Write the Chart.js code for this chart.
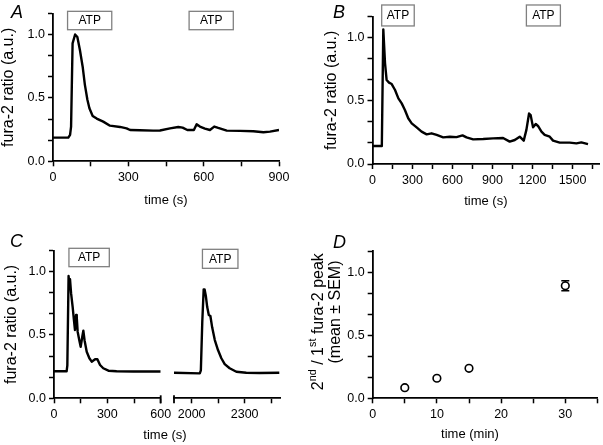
<!DOCTYPE html>
<html><head><meta charset="utf-8">
<script src="https://cdn.jsdelivr.net/npm/chart.js@4.4.1/dist/chart.umd.min.js"></script>
<style>
html,body{margin:0;padding:0;background:#fff;}
#wrap{position:relative;width:603px;height:445px;overflow:hidden;background:#fff;}
canvas{position:absolute;}
</style></head><body>
<div id="wrap">
<canvas id="cA" width="300" height="222" style="left:0;top:0"></canvas>
<canvas id="cB" width="303" height="222" style="left:300px;top:0"></canvas>
<canvas id="cC1" width="300" height="223" style="left:0;top:222px"></canvas>
<canvas id="cC2" width="135" height="223" style="left:165px;top:222px"></canvas>
<canvas id="cD" width="303" height="223" style="left:300px;top:222px"></canvas>
</div>
<script>
// ---------------- data ----------------
const timeA  = [0, 61, 68, 72, 78, 88, 97, 107, 118, 127, 137, 145, 158, 174, 200, 227, 267, 293, 307, 346, 399, 426, 466, 499, 516, 535, 561, 572, 585, 605, 625, 642, 658, 692, 745, 798, 838, 864, 900];
const ratioA = [0.187, 0.187, 0.208, 0.274, 0.93, 1.0, 0.98, 0.88, 0.748, 0.603, 0.485, 0.419, 0.358, 0.337, 0.313, 0.281, 0.271, 0.26, 0.247, 0.245, 0.242, 0.243, 0.26, 0.271, 0.266, 0.247, 0.247, 0.292, 0.274, 0.258, 0.247, 0.274, 0.263, 0.242, 0.24, 0.237, 0.229, 0.234, 0.247];

const timeB  = [0, 66, 70, 81, 94, 106, 124, 144, 169, 194, 219, 243, 268, 294, 331, 368, 406, 443, 481, 530, 580, 630, 675, 705, 755, 830, 904, 979, 1029, 1067, 1104, 1134, 1154, 1174, 1186, 1204, 1224, 1241, 1267, 1291, 1329, 1354, 1404, 1479, 1529, 1566, 1616];
const ratioB = [0.142, 0.142, 0.15, 1.066, 0.797, 0.665, 0.644, 0.633, 0.586, 0.52, 0.48, 0.428, 0.362, 0.322, 0.29, 0.256, 0.235, 0.243, 0.23, 0.211, 0.216, 0.213, 0.227, 0.211, 0.195, 0.198, 0.203, 0.206, 0.177, 0.19, 0.216, 0.185, 0.27, 0.40, 0.387, 0.29, 0.317, 0.301, 0.256, 0.23, 0.216, 0.185, 0.169, 0.169, 0.163, 0.171, 0.158];

const timeC1  = [0, 71, 75, 82, 86, 90, 96, 105, 112, 118, 124, 128, 133, 142, 150, 159, 165, 172, 184, 199, 212, 231, 244, 259, 277, 306, 352, 446, 540, 600];
const ratioC1 = [0.213, 0.213, 0.26, 0.965, 0.907, 0.94, 0.83, 0.72, 0.618, 0.539, 0.657, 0.64, 0.526, 0.46, 0.407, 0.486, 0.534, 0.457, 0.368, 0.316, 0.289, 0.308, 0.308, 0.263, 0.237, 0.218, 0.213, 0.212, 0.212, 0.212];

const timeC2  = [1900, 2046, 2052, 2060, 2068, 2073, 2080, 2088, 2097, 2106, 2116, 2131, 2149, 2168, 2187, 2215, 2253, 2309, 2384, 2496];
const ratioC2 = [0.202, 0.197, 0.22, 0.6, 0.86, 0.86, 0.81, 0.72, 0.657, 0.65, 0.56, 0.46, 0.381, 0.316, 0.27, 0.237, 0.21, 0.202, 0.2, 0.202];

const timeD  = [5, 10, 15, 30];
const ratioD = [0.084, 0.159, 0.238, 0.893];
const semD   = [0.01, 0.01, 0.01, 0.04];

// ATP application windows (s)
const atpA  = [[58, 234], [542, 718]];
const atpB  = [[69, 313], [1154, 1409]];
const atpC1 = [[84, 311]];
const atpC2 = [[2061, 2262]];

// ticks
const yTicks  = [0, 1/6, 2/6, 3/6, 4/6, 5/6, 1, 7/6];
const yLabels = [0, 0.5, 1.0];
const xTicksA  = [0, 150, 300, 450, 600, 750, 900];
const xLabelsA = [0, 300, 600, 900];
const xTicksB  = [0, 150, 300, 450, 600, 750, 900, 1050, 1200, 1350, 1500, 1650];
const xLabelsB = [0, 300, 600, 900, 1200, 1500];
const xTicksC1  = [0, 150, 300, 450, 600];
const xLabelsC1 = [0, 300, 600];
const xTicksC2  = [2000, 2150, 2300, 2450];
const xLabelsC2 = [2000, 2300];
const xTicksD  = [0, 5, 10, 15, 20, 25, 30, 35];
const xLabelsD = [0, 10, 20, 30];

// ---------------- styling ----------------
const FAM = "'Liberation Sans', Arial, Helvetica, sans-serif";
Chart.defaults.font.family = FAM;
Chart.defaults.color = '#000';
const tickFont = {family: FAM, size: 12.5};
const xTitleFont = {family: FAM, size: 13};
const yTitleFont = {family: FAM, size: 16, lineHeight: 1};

function xAxis(min, max, ticks, labels, h, title) {
  return {
    type: 'linear', min: min, max: max,
    afterBuildTicks: s => { s.ticks = ticks.map(v => ({value: v})); },
    afterFit: s => { s.height = h; },
    ticks: {autoSkip: false, maxRotation: 0, color: '#000', font: tickFont, padding: 4,
      callback: v => labels.some(l => Math.abs(l - v) < 1e-9) ? String(v) : ''},
    grid: {display: true, drawOnChartArea: false, drawTicks: true, tickLength: 5, tickWidth: 1.5, color: '#000'},
    border: {display: true, color: '#000', width: 1.8},
    title: title ? {display: true, text: title.text, font: xTitleFont, color: '#000', padding: {top: 0, bottom: title.pad}} : {display: false}
  };
}
function yAxis(w, title, show) {
  return {
    type: 'linear', min: 0, max: 7/6, display: show !== false,
    afterBuildTicks: s => { s.ticks = yTicks.map(v => ({value: v})); },
    afterFit: s => { s.width = w; },
    ticks: {autoSkip: false, color: '#000', font: tickFont, padding: 3,
      callback: v => yLabels.some(l => Math.abs(l - v) < 1e-9) ? v.toFixed(1) : ''},
    grid: {display: true, drawOnChartArea: false, drawTicks: true, tickLength: 5, tickWidth: 1.5, color: '#000'},
    border: {display: true, color: '#000', width: 1.8},
    title: title ? {display: true, text: title.text, font: yTitleFont, color: '#000', padding: {top: title.pad, bottom: 0}} : {display: false}
  };
}

const decoPlugin = {
  id: 'deco',
  beforeDatasetsDraw(chart, args, o) {
    if (!o.errors) return;
    const ctx = chart.ctx, xs = chart.scales.x, ys = chart.scales.y;
    ctx.save();
    ctx.strokeStyle = '#000'; ctx.lineWidth = 1.5;
    o.errors.x.forEach((xv, i) => {
      const px = xs.getPixelForValue(xv);
      const top = ys.getPixelForValue(o.errors.y[i] + o.errors.e[i]);
      const bot = ys.getPixelForValue(o.errors.y[i] - o.errors.e[i]);
      ctx.beginPath();
      ctx.moveTo(px, top); ctx.lineTo(px, bot);
      ctx.moveTo(px - 4, top); ctx.lineTo(px + 4, top);
      ctx.moveTo(px - 4, bot); ctx.lineTo(px + 4, bot);
      ctx.stroke();
    });
    ctx.restore();
  },
  afterDraw(chart, args, o) {
    const ctx = chart.ctx, xs = chart.scales.x, ys = chart.scales.y, ca = chart.chartArea;
    ctx.save();
    (o.boxes || []).forEach(([t0, t1]) => {
      const x0 = xs.getPixelForValue(t0), x1 = xs.getPixelForValue(t1);
      const y0 = ys.getPixelForValue(o.boxTop), y1 = ys.getPixelForValue(o.boxBottom);
      ctx.fillStyle = '#fff';
      ctx.fillRect(x0, y0, x1 - x0, y1 - y0);
      ctx.strokeStyle = '#808080'; ctx.lineWidth = 1.3;
      ctx.strokeRect(x0, y0, x1 - x0, y1 - y0);
      ctx.fillStyle = '#000'; ctx.font = '12px ' + FAM;
      ctx.textAlign = 'center'; ctx.textBaseline = 'middle';
      ctx.fillText('ATP', (x0 + x1) / 2, (y0 + y1) / 2 + 0.5);
    });
    (o.caps || []).forEach(side => {
      const px = side === 'right' ? ca.right : ca.left;
      ctx.strokeStyle = '#000'; ctx.lineWidth = 1.8;
      ctx.beginPath(); ctx.moveTo(px, ca.bottom - 3); ctx.lineTo(px, ca.bottom + 5); ctx.stroke();
    });
    (o.texts || []).forEach(t => {
      ctx.save();
      ctx.translate(t.x, t.y);
      if (t.rot) ctx.rotate(t.rot);
      ctx.fillStyle = '#000';
      ctx.textBaseline = t.baseline || 'middle';
      const size = t.size || 13;
      const parts = t.parts || [{s: t.text}];
      const fontFor = p => (t.italic ? 'italic ' : '') + (p.sup ? size * 0.68 : size) + 'px ' + FAM;
      let total = 0;
      parts.forEach(p => { ctx.font = fontFor(p); total += ctx.measureText(p.s).width; });
      let x = t.align === 'left' ? 0 : -total / 2;
      ctx.textAlign = 'left';
      parts.forEach(p => {
        ctx.font = fontFor(p);
        ctx.fillText(p.s, x, p.sup ? -size * 0.36 : 0);
        x += ctx.measureText(p.s).width;
      });
      ctx.restore();
    });
    ctx.restore();
  }
};

function pts(xs, ys) { return xs.map((x, i) => ({x: x, y: ys[i]})); }
function traceDS(xs, ys) {
  return {data: pts(xs, ys), borderColor: '#000', borderWidth: 2.4, pointRadius: 0, tension: 0, fill: false, borderJoinStyle: 'round'};
}
function baseOpts(pad, scales, deco) {
  return {
    responsive: false, animation: false, events: [],
    layout: {padding: pad},
    plugins: {legend: {display: false}, tooltip: {enabled: false}, deco: deco},
    scales: scales
  };
}

// Panel A
new Chart(document.getElementById('cA'), {
  type: 'line',
  data: {datasets: [traceDS(timeA, ratioA)]},
  options: baseOpts({left: 0, top: 13.4, right: 21, bottom: 10.7},
    {x: xAxis(0, 900, xTicksA, xLabelsA, 50, {text: 'time (s)', pad: 2.8}),
     y: yAxis(53, {text: 'fura-2 ratio (a.u.)', pad: 0.5})},
    {boxes: atpA, boxTop: 1.183, boxBottom: 1.038,
     texts: [{text: 'A', x: 11, y: 18, size: 18, italic: true, align: 'left', baseline: 'alphabetic'}]}),
  plugins: [decoPlugin]
});

// Panel B
new Chart(document.getElementById('cB'), {
  type: 'line',
  data: {datasets: [traceDS(timeB, ratioB)]},
  options: baseOpts({left: 0, top: 16.65, right: 3.8, bottom: 8},
    {x: xAxis(0, 1700, xTicksB, xLabelsB, 50, {text: 'time (s)', pad: 4.5}),
     y: yAxis(72.5, {text: 'fura-2 ratio (a.u.)', pad: 23.7})},
    {boxes: atpB, boxTop: 1.259, boxBottom: 1.093,
     texts: [{text: 'B', x: 33, y: 18, size: 18, italic: true, align: 'left', baseline: 'alphabetic'}]}),
  plugins: [decoPlugin]
});

// Panel C (left segment)
new Chart(document.getElementById('cC1'), {
  type: 'line',
  data: {datasets: [traceDS(timeC1, ratioC1)]},
  options: baseOpts({left: 0, top: 28.5, right: 139.3, bottom: 6.7},
    {x: xAxis(0, 600, xTicksC1, xLabelsC1, 40, null),
     y: yAxis(54, {text: 'fura-2 ratio (a.u.)', pad: 3.7})},
    {boxes: atpC1, boxTop: 1.184, boxBottom: 1.039, caps: ['right'],
     texts: [{text: 'C', x: 10, y: 24.7, size: 18, italic: true, align: 'left', baseline: 'alphabetic'},
             {text: 'time (s)', x: 165, y: 213.7}]}),
  plugins: [decoPlugin]
});

// Panel C (right segment)
new Chart(document.getElementById('cC2'), {
  type: 'line',
  data: {datasets: [traceDS(timeC2, ratioC2)]},
  options: baseOpts({left: 9, top: 28.5, right: 20, bottom: 6.7},
    {x: xAxis(1900, 2500, xTicksC2, xLabelsC2, 40, null),
     y: yAxis(0, null, false)},
    {boxes: atpC2, boxTop: 1.176, boxBottom: 1.026, caps: ['left']}),
  plugins: [decoPlugin]
});

// Panel D
new Chart(document.getElementById('cD'), {
  type: 'scatter',
  data: {datasets: [{data: pts(timeD, ratioD), showLine: false, pointRadius: 3.8, pointBorderWidth: 1.6,
    pointBorderColor: '#000', pointBackgroundColor: '#fff', clip: false}]},
  options: baseOpts({left: 0, top: 29.3, right: 3, bottom: 6.7},
    {x: xAxis(0, 35, xTicksD, xLabelsD, 40, null),
     y: yAxis(72.7, null)},
    {errors: {x: timeD, y: ratioD, e: semD},
     texts: [{text: 'D', x: 33, y: 26, size: 18, italic: true, align: 'left', baseline: 'alphabetic'},
             {text: 'time (min)', x: 170, y: 212},
             {parts: [{s: '2'}, {s: 'nd', sup: true}, {s: ' / 1'}, {s: 'st', sup: true}, {s: ' fura-2 peak'}], x: 19, y: 99.7, rot: -Math.PI / 2, size: 16},
             {text: '(mean \u00B1 SEM)', x: 36, y: 90, rot: -Math.PI / 2, size: 16}]}),
  plugins: [decoPlugin]
});
</script>
</body></html>
